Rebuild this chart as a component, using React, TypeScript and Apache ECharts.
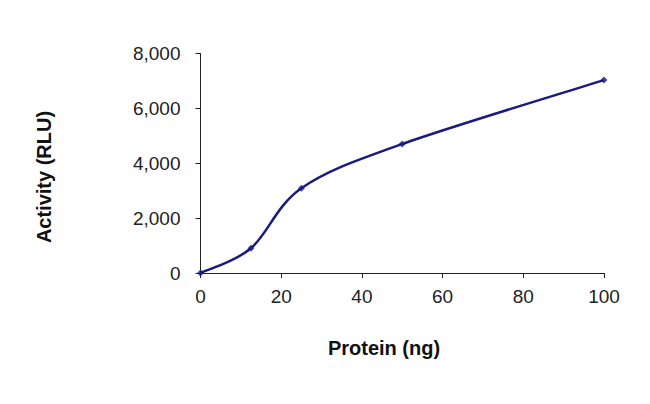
import React, { useEffect, useRef } from "react";
import * as echarts from "echarts";

const proteinNg = [0, 12.5, 25, 50, 100];
const activityRlu = [0, 900, 3090, 4700, 7030];
const xTitle = "Protein (ng)";
const yTitle = "Activity (RLU)";

export default function App() {
  const ref = useRef<HTMLDivElement>(null);
  useEffect(() => {
    if (!ref.current) return;
    const chart = echarts.init(ref.current, undefined, { renderer: "svg" });
    const font = "'Liberation Sans', Arial, sans-serif";
    const points = proteinNg.map((x, i) => [x, activityRlu[i]]);
    const lineColor = "#1a1a80";
    chart.setOption({
      animation: false,
      backgroundColor: "#ffffff",
      grid: { left: 200.5, right: 46, top: 53.5, bottom: 131, containLabel: false },
      xAxis: {
        type: "value",
        min: 0,
        max: 100,
        interval: 20,
        axisLine: { show: true, lineStyle: { color: "#222", width: 1 } },
        axisTick: { show: true, inside: false, length: 5, lineStyle: { color: "#222" } },
        axisLabel: { color: "#222", fontSize: 19, fontFamily: font, margin: 14 },
        splitLine: { show: false },
      },
      yAxis: {
        type: "value",
        min: 0,
        max: 8000,
        interval: 2000,
        axisLine: { show: true, lineStyle: { color: "#222", width: 1 } },
        axisTick: { show: true, inside: false, length: 5, lineStyle: { color: "#222" } },
        axisLabel: {
          color: "#222",
          fontSize: 19,
          fontFamily: font,
          margin: 20,
          formatter: (v: number) => v.toLocaleString("en-US"),
        },
        splitLine: { show: false },
      },
      graphic: [
        {
          type: "text",
          x: 384,
          y: 348,
          style: {
            text: xTitle,
            fill: "#111",
            font: `bold 20px ${font}`,
            textAlign: "center",
            textVerticalAlign: "middle",
          },
        },
        {
          type: "text",
          x: 44,
          y: 177,
          rotation: Math.PI / 2,
          style: {
            text: yTitle,
            fill: "#111",
            font: `bold 20px ${font}`,
            textAlign: "center",
            textVerticalAlign: "middle",
          },
        },
      ],
      series: [
        {
          type: "custom",
          data: points,
          silent: true,
          renderItem: (params: any, api: any) => {
            if (params.dataIndex !== 0) return null;
            const p = points.map((d) => api.coord(d));
            const n = p.length;
            let d = `M${p[0][0]},${p[0][1]}`;
            for (let i = 0; i < n - 1; i++) {
              const p0 = p[Math.max(0, i - 1)];
              const p1 = p[i];
              const p2 = p[i + 1];
              const p3 = p[Math.min(n - 1, i + 2)];
              const c1x = p1[0] + (p2[0] - p0[0]) / 6;
              const c1y = p1[1] + (p2[1] - p0[1]) / 6;
              const c2x = p2[0] - (p3[0] - p1[0]) / 6;
              const c2y = p2[1] - (p3[1] - p1[1]) / 6;
              d += ` C${c1x},${c1y} ${c2x},${c2y} ${p2[0]},${p2[1]}`;
            }
            return {
              type: "path",
              shape: { pathData: d },
              style: { fill: "none", stroke: lineColor, lineWidth: 2.5 },
            };
          },
          z: 2,
        },
        {
          type: "scatter",
          data: points,
          symbol: "diamond",
          symbolSize: 7,
          itemStyle: { color: lineColor },
          z: 3,
        },
      ],
    });
    return () => chart.dispose();
  }, []);
  return (
    <div
      ref={ref}
      style={{ position: "fixed", left: 0, top: 0, width: 650, height: 404 }}
    />
  );
}
